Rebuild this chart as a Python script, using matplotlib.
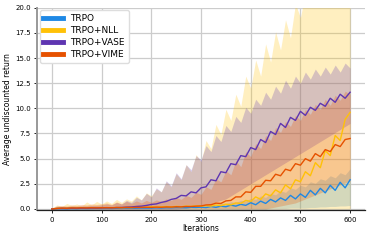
import numpy as np
import matplotlib
matplotlib.use("Agg")
import matplotlib.pyplot as plt

# ---- data (every 10 iterations) ----
iters = np.arange(0, 610, 10)

trpo_mean = [0.00, 0.02, 0.03, 0.02, 0.04, 0.03, 0.05, 0.04, 0.05, 0.06,
             0.05, 0.06, 0.05, 0.07, 0.06, 0.08, 0.07, 0.08, 0.10, 0.09,
             0.10, 0.12, 0.10, 0.13, 0.12, 0.15, 0.14, 0.12, 0.16, 0.15,
             0.18, 0.14, 0.24, 0.16, 0.28, 0.22, 0.38, 0.28, 0.46, 0.36,
             0.62, 0.42, 0.78, 0.55, 0.95, 0.70, 1.10, 0.85, 1.35, 1.00,
             1.50, 1.15, 1.85, 1.40, 2.05, 1.60, 2.35, 1.85, 2.65, 2.10,
             2.90]
trpo_hi = [0.05, 0.08, 0.10, 0.08, 0.12, 0.10, 0.14, 0.12, 0.14, 0.16,
           0.15, 0.16, 0.15, 0.18, 0.17, 0.20, 0.19, 0.22, 0.25, 0.24,
           0.26, 0.30, 0.27, 0.32, 0.30, 0.36, 0.34, 0.32, 0.38, 0.36,
           0.42, 0.40, 0.50, 0.45, 0.58, 0.55, 0.72, 0.65, 0.85, 0.80,
           1.05, 0.95, 1.30, 1.15, 1.55, 1.40, 1.80, 1.65, 2.10, 1.95,
           2.35, 2.20, 2.70, 2.55, 3.00, 2.85, 3.30, 3.10, 3.60, 3.40,
           4.00]
trpo_lo = [0.00, 0.00, 0.00, 0.00, 0.00, 0.00, 0.00, 0.00, 0.00, 0.00,
           0.00, 0.00, 0.00, 0.00, 0.00, 0.00, 0.00, 0.00, 0.00, 0.00,
           0.00, 0.00, 0.00, 0.00, 0.00, 0.00, 0.00, 0.00, 0.00, 0.00,
           0.00, 0.00, 0.00, 0.00, 0.00, 0.00, 0.00, 0.00, 0.00, 0.00,
           0.00, 0.00, 0.00, 0.00, 0.05, 0.05, 0.05, 0.05, 0.10, 0.10,
           0.10, 0.10, 0.15, 0.15, 0.20, 0.20, 0.25, 0.25, 0.30, 0.30,
           0.35]

nll_mean = [0.00, 0.05, 0.08, 0.06, 0.10, 0.08, 0.12, 0.10, 0.09, 0.12,
            0.10, 0.13, 0.11, 0.15, 0.12, 0.16, 0.14, 0.18, 0.20, 0.16,
            0.22, 0.18, 0.20, 0.24, 0.20, 0.26, 0.22, 0.28, 0.25, 0.30,
            0.28, 0.34, 0.28, 0.40, 0.32, 0.48, 0.40, 0.60, 0.55, 0.85,
            0.75, 1.20, 0.95, 1.50, 1.30, 1.90, 1.60, 2.40, 2.00, 2.90,
            2.70, 3.70, 3.30, 4.60, 4.10, 5.80, 5.30, 7.30, 6.80, 8.90,
            9.60]
nll_hi = [0.10, 0.40, 0.25, 0.55, 0.35, 0.50, 0.30, 0.70, 0.40, 0.75,
          0.50, 0.80, 0.55, 0.95, 0.65, 1.00, 0.80, 1.30, 0.90, 1.60,
          1.30, 2.00, 1.70, 2.70, 2.20, 3.50, 2.90, 4.40, 3.70, 5.40,
          4.70, 6.80, 6.00, 8.40, 7.40, 9.90, 8.80, 11.4, 10.2, 13.2,
          12.0, 14.8, 13.2, 16.4, 14.6, 17.6, 15.8, 18.8, 17.0, 20.4,
          19.0, 21.5, 20.5, 22.0, 21.5, 22.5, 22.0, 23.0, 22.5, 23.0,
          23.0]
nll_lo = [0.00, 0.00, 0.00, 0.00, 0.00, 0.00, 0.00, 0.00, 0.00, 0.00,
          0.00, 0.00, 0.00, 0.00, 0.00, 0.00, 0.00, 0.00, 0.00, 0.00,
          0.00, 0.00, 0.00, 0.00, 0.00, 0.00, 0.00, 0.00, 0.00, 0.00,
          0.00, 0.00, 0.00, 0.00, 0.00, 0.00, 0.00, 0.00, 0.00, 0.00,
          0.00, 0.00, 0.00, 0.00, 0.00, 0.00, 0.00, 0.00, 0.00, 0.00,
          0.00, 0.00, 0.00, 0.00, 0.00, 0.00, 0.00, 0.00, 0.00, 0.00,
          0.00]

vase_mean = [0.00, 0.05, 0.06, 0.05, 0.07, 0.06, 0.08, 0.07, 0.09, 0.08,
             0.10, 0.12, 0.11, 0.14, 0.15, 0.18, 0.20, 0.25, 0.28, 0.35,
             0.45, 0.50, 0.65, 0.75, 0.95, 1.05, 1.35, 1.30, 1.70, 1.60,
             2.10, 2.20, 2.90, 2.80, 3.70, 3.60, 4.50, 4.40, 5.30, 5.20,
             6.10, 5.90, 6.90, 6.60, 7.70, 7.40, 8.50, 8.10, 9.10, 8.80,
             9.70, 9.30, 10.1, 9.80, 10.5, 10.2, 11.0, 10.6, 11.4, 11.0,
             11.6]
vase_hi = [0.10, 0.20, 0.25, 0.22, 0.28, 0.26, 0.30, 0.30, 0.35, 0.35,
           0.40, 0.50, 0.40, 0.65, 0.50, 0.85, 0.65, 1.15, 0.90, 1.55,
           1.20, 2.10, 1.70, 2.80, 2.30, 3.60, 3.00, 4.40, 3.90, 5.30,
           4.90, 6.30, 5.70, 7.30, 6.70, 8.30, 7.70, 9.20, 8.60, 10.1,
           9.50, 10.9, 10.3, 11.6, 10.9, 12.2, 11.5, 12.8, 12.0, 13.2,
           12.5, 13.6, 12.9, 13.9, 13.2, 14.1, 13.4, 14.3, 13.6, 14.5,
           14.0]
vase_lo = [0.00, 0.00, 0.00, 0.00, 0.00, 0.00, 0.00, 0.00, 0.00, 0.00,
           0.00, 0.00, 0.00, 0.00, 0.00, 0.00, 0.00, 0.00, 0.00, 0.00,
           0.00, 0.00, 0.00, 0.00, 0.00, 0.00, 0.05, 0.10, 0.15, 0.20,
           0.30, 0.40, 0.55, 0.70, 0.85, 1.00, 1.30, 1.60, 1.90, 2.20,
           2.50, 2.80, 3.10, 3.40, 3.70, 4.00, 4.30, 4.60, 4.90, 5.20,
           5.50, 5.80, 6.10, 6.40, 6.70, 7.00, 7.30, 7.60, 7.90, 8.20,
           8.50]

vime_mean = [0.00, 0.05, 0.08, 0.07, 0.10, 0.09, 0.11, 0.10, 0.12, 0.11,
             0.12, 0.13, 0.12, 0.14, 0.13, 0.15, 0.14, 0.16, 0.15, 0.17,
             0.16, 0.18, 0.17, 0.20, 0.19, 0.22, 0.21, 0.25, 0.24, 0.28,
             0.30, 0.40, 0.42, 0.58, 0.55, 0.80, 0.85, 1.20, 1.20, 1.70,
             1.65, 2.25, 2.25, 2.85, 2.80, 3.45, 3.30, 3.95, 3.80, 4.50,
             4.35, 5.00, 4.75, 5.50, 5.20, 5.90, 5.70, 6.40, 6.20, 6.90,
             7.00]
vime_hi = [0.10, 0.30, 0.35, 0.30, 0.40, 0.35, 0.45, 0.40, 0.50, 0.45,
           0.50, 0.60, 0.45, 0.70, 0.50, 0.75, 0.55, 0.80, 0.60, 0.85,
           0.65, 0.90, 0.75, 1.00, 0.85, 1.15, 0.95, 1.35, 1.15, 1.65,
           1.45, 2.20, 1.95, 3.00, 2.70, 3.80, 3.40, 4.80, 4.20, 5.70,
           5.20, 6.50, 6.00, 7.30, 6.80, 8.10, 7.60, 8.70, 8.20, 9.30,
           8.80, 9.90, 9.40, 10.4, 9.90, 10.9, 10.3, 11.3, 10.8, 11.7,
           11.4]
vime_lo = [0.00, 0.00, 0.00, 0.00, 0.00, 0.00, 0.00, 0.00, 0.00, 0.00,
           0.00, 0.00, 0.00, 0.00, 0.00, 0.00, 0.00, 0.00, 0.00, 0.00,
           0.00, 0.00, 0.00, 0.00, 0.00, 0.00, 0.00, 0.00, 0.00, 0.00,
           0.00, 0.00, 0.00, 0.00, 0.00, 0.00, 0.00, 0.00, 0.00, 0.00,
           0.00, 0.00, 0.00, 0.00, 0.10, 0.20, 0.30, 0.40, 0.50, 0.60,
           0.80, 1.00, 1.20, 1.40, 1.60, 1.80, 2.00, 2.20, 2.40, 2.60,
           2.80]

labels = ["TRPO", "TRPO+NLL", "TRPO+VASE", "TRPO+VIME"]
colors = ["#1E88E5", "#FFC107", "#5E35B1", "#E65100"]
means = [trpo_mean, nll_mean, vase_mean, vime_mean]
lows = [trpo_lo, nll_lo, vase_lo, vime_lo]
highs = [trpo_hi, nll_hi, vase_hi, vime_hi]

fig = plt.figure(figsize=(3.74, 2.40), dpi=100)
ax = fig.add_axes([0.099, 0.123, 0.877, 0.845])

for lab, col, m, lo, hi in zip(labels, colors, means, lows, highs):
    ax.fill_between(iters, lo, hi, color=col, alpha=0.25, linewidth=0)
for lab, col, m in zip(labels, colors, means):
    ax.plot(iters, m, color=col, lw=1.0, label=lab)

ax.set_xlim(-30, 630)
ax.set_ylim(-0.15, 20)
ax.set_xticks([0, 100, 200, 300, 400, 500, 600])
ax.set_yticks([0.0, 2.5, 5.0, 7.5, 10.0, 12.5, 15.0, 17.5, 20.0])
ax.yaxis.set_major_formatter(matplotlib.ticker.FormatStrFormatter("%.1f"))
ax.grid(True, color="#cccccc", lw=0.9)
ax.set_axisbelow(True)
ax.tick_params(labelsize=5, length=2.5, width=0.6, pad=2)
for s in ["top", "right"]:
    ax.spines[s].set_visible(False)
ax.spines["left"].set_color("#999999")
ax.spines["left"].set_linewidth(1.4)
ax.spines["bottom"].set_color("#222222")
ax.spines["bottom"].set_linewidth(0.9)

ax.set_xlabel("Iterations", fontsize=5.5, labelpad=1)
ax.set_ylabel("Average undiscounted return", fontsize=5.5, labelpad=2)

leg = ax.legend(loc="upper left", fontsize=6.5, handlelength=2.2,
                borderpad=0.4, labelspacing=0.35, framealpha=1,
                edgecolor="#dddddd", borderaxespad=0.3)
for h in leg.get_lines():
    h.set_linewidth(3.5)

fig.savefig("out.png", dpi=100)
